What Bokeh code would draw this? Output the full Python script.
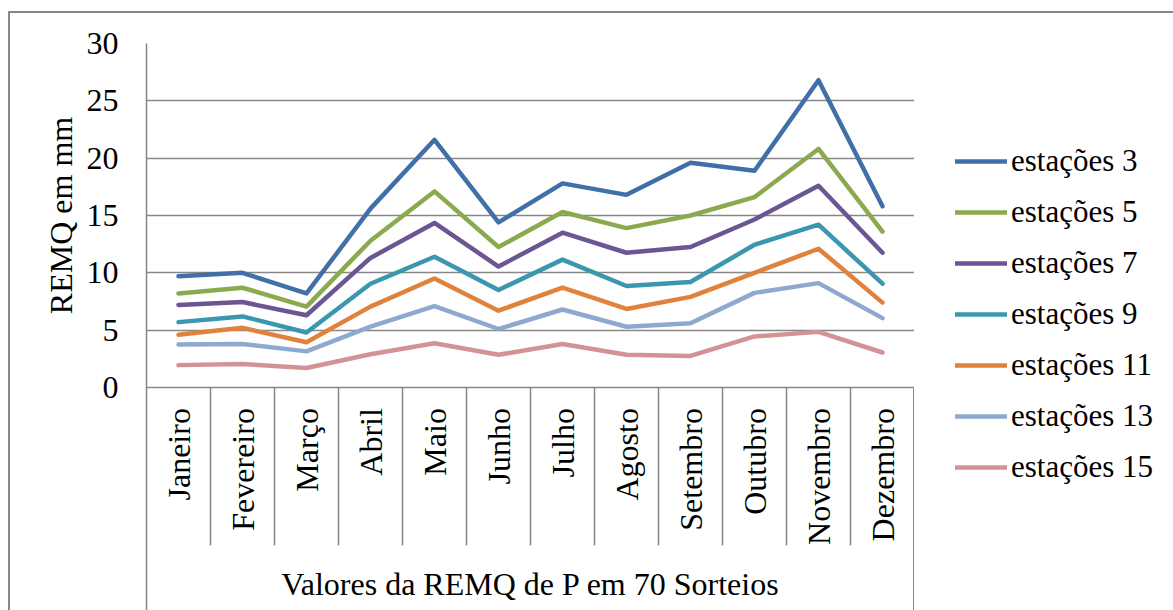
import math
from bokeh.plotting import figure
from bokeh.layouts import row
from bokeh.models import (FactorRange, Range1d, FixedTicker, Label, ColumnDataSource,
                          Legend, LegendItem)
from bokeh.transform import dodge
from bokeh.core.properties import value
from bokeh.embed import file_html
from bokeh.resources import INLINE

# ---------------- data ----------------
months = ["Janeiro", "Fevereiro", "Março", "Abril", "Maio", "Junho", "Julho",
          "Agosto", "Setembro", "Outubro", "Novembro", "Dezembro"]
series_names = ["estações 3", "estações 5", "estações 7", "estações 9",
                "estações 11", "estações 13", "estações 15"]
est3 = [9.7, 10.0, 8.2, 15.6, 21.6, 14.4, 17.8, 16.8, 19.6, 18.9, 26.8, 15.8]
est5 = [8.2, 8.7, 7.05, 12.8, 17.1, 12.25, 15.3, 13.9, 15.0, 16.6, 20.8, 13.6]
est7 = [7.2, 7.45, 6.3, 11.3, 14.35, 10.55, 13.5, 11.75, 12.25, 14.65, 17.6, 11.75]
est9 = [5.7, 6.2, 4.8, 9.05, 11.4, 8.5, 11.15, 8.85, 9.2, 12.45, 14.2, 9.05]
est11 = [4.6, 5.2, 3.95, 7.05, 9.5, 6.7, 8.7, 6.85, 7.9, 10.0, 12.1, 7.4]
est13 = [3.75, 3.8, 3.15, 5.3, 7.1, 5.1, 6.8, 5.3, 5.6, 8.25, 9.1, 6.05]
est15 = [1.95, 2.05, 1.7, 2.9, 3.85, 2.85, 3.8, 2.85, 2.75, 4.45, 4.85, 3.05]
y_ticks = [0, 5, 10, 15, 20, 25, 30]
y_title = "REMQ em mm"
group_title = "Valores da REMQ de P em 70 Sorteios"

series_values = [est3, est5, est7, est9, est11, est13, est15]
colors = ["#4170A8", "#8BAA4D", "#6B5592", "#3B97AF", "#E0823C", "#8FA8CF", "#D39294"]

FONT = "Liberation Serif"
FS = "32px"
GREY = "#878787"
Y_MIN = -19.45
H = 597
TOP = 30

common = dict(output_backend="svg", toolbar_location=None,
              background_fill_color="white", border_fill_color="white",
              outline_line_color=None)

y_range = Range1d(Y_MIN, 30)

# ---------------- left strip: value-axis title ----------------
pl = figure(width=70, height=H, x_range=Range1d(0, 1), y_range=y_range,
            x_axis_location=None, y_axis_location=None,
            min_border_left=0, min_border_right=0, min_border_top=TOP, min_border_bottom=0,
            **common)
pl.grid.visible = False
pl.add_layout(Label(x=50, y=15, x_units="screen", y_units="data", text=y_title,
                    angle=math.pi / 2, text_align="center", text_baseline="middle",
                    text_font=FONT, text_font_size=FS, text_color="black"))

# ---------------- main chart ----------------
p = figure(
    width=834, height=H,
    x_range=FactorRange(*months),
    y_range=y_range,
    x_axis_location=None,
    min_border_left=66, min_border_top=TOP, min_border_bottom=0, min_border_right=0,
    **common,
)

p.xgrid.visible = False
p.ygrid.ticker = FixedTicker(ticks=y_ticks)
p.ygrid.grid_line_color = GREY
p.ygrid.grid_line_width = 1.5

ax = p.yaxis[0]
ax.ticker = FixedTicker(ticks=y_ticks)
ax.axis_line_color = GREY
ax.axis_line_width = 1.5
ax.major_tick_in = 0
ax.major_tick_out = 0
ax.minor_tick_in = 0
ax.minor_tick_out = 0
ax.major_label_standoff = 28
ax.major_label_text_font = FONT
ax.major_label_text_font_size = FS
ax.major_label_text_color = "black"

# category cells under the plot
sep_src = ColumnDataSource(dict(m=months[:-1]))
p.segment(x0=dodge("m", 0.5, range=p.x_range), y0=0,
          x1=dodge("m", 0.5, range=p.x_range), y1=-13.78,
          source=sep_src, line_color=GREY, line_width=1.5)
end_src = ColumnDataSource(dict(m=months[-1:]))
p.segment(x0=dodge("m", 0.5, range=p.x_range), y0=0,
          x1=dodge("m", 0.5, range=p.x_range), y1=Y_MIN,
          source=end_src, line_color=GREY, line_width=3)

p.text(x=months, y=-1.8, text=months, angle=math.pi / 2,
       text_align="right", text_baseline="middle",
       text_font=value(FONT), text_font_size=value(FS), text_color="black")

p.add_layout(Label(x=len(months) / 2, y=-17.12, text=group_title,
                   text_align="center", text_baseline="middle",
                   text_font=FONT, text_font_size=FS, text_color="black"))

for name, vals, col in zip(series_names, series_values, colors):
    p.line(x=months, y=vals, line_color=col, line_width=4.5,
           line_cap="round", line_join="round")

# ---------------- right strip: legend ----------------
pr = figure(width=259, height=H, x_range=Range1d(0, 1), y_range=Range1d(0, 1),
            x_axis_location=None, y_axis_location=None,
            min_border_left=0, min_border_right=0, min_border_top=0, min_border_bottom=0,
            **common)
pr.grid.visible = False
items = []
for name, col in zip(series_names, colors):
    # stand-in renderer (kept outside the visible range) that only supplies the key swatch
    r = pr.line(x=[0, 1], y=[-5, -5], line_color=col, line_width=4.5, line_cap="round")
    items.append(LegendItem(label=name, renderers=[r]))

leg = Legend(items=items, location=(41, 123))
leg.glyph_width = 52
leg.glyph_height = 40
leg.label_height = 40
leg.spacing = 11
leg.padding = 10
leg.margin = 0
leg.label_standoff = 4
leg.label_text_font = FONT
leg.label_text_font_size = "31px"
leg.label_text_color = "black"
leg.border_line_color = None
leg.background_fill_alpha = 0
pr.add_layout(leg)

layout = row(pl, p, pr, spacing=0,
             styles={"border-left": "2px solid #878787", "border-top": "2px solid #878787",
                     "margin-top": "11px", "margin-left": "8px"})

open("out.html", "w").write(file_html(layout, INLINE))
